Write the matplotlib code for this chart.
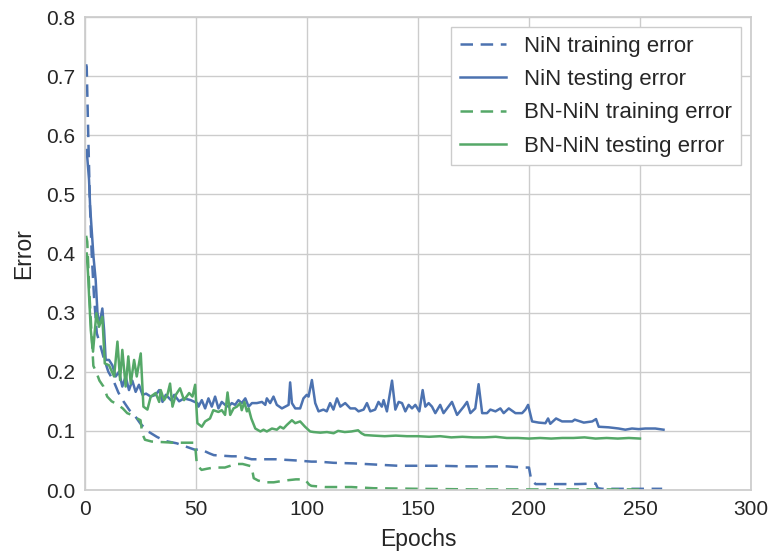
import matplotlib
matplotlib.use("Agg")
import matplotlib.pyplot as plt
from matplotlib.ticker import FormatStrFormatter

# ---------------- data ----------------
nin_test_x = [0.75, 1.8, 2.3, 2.9, 3.8, 4.8, 5.6, 6.3, 7.0, 7.8, 8.6, 9.3, 10.8, 12.3, 13.8, 15.3,
              16.8, 18.3, 19.8, 21.3, 22.8, 24.3, 25.9, 27.5, 29.6, 31.8, 33.4, 34.9, 36.4, 38.7,
              40.2, 42.4, 44.6, 47.6, 50.6,
              51.1, 52.6, 54.1, 55.6, 57.1, 58.6, 60.1, 61.6, 63.1, 64.6, 66.1, 67.6, 69.1, 70.6,
              72.2, 73.7, 75.2, 77.4, 79.7, 81.2, 81.9, 83.4, 84.9, 86.4, 88.7, 90.2, 91.7, 92.4,
              93.2, 94.7, 96.9, 98.4, 99.9,
              100.7, 102.2, 103.7, 105.2, 107.4, 108.9, 110.4, 111.9, 113.5, 115.0, 117.2, 119.5,
              121.7, 123.2, 125.5, 127.0, 128.5, 130.7, 132.2, 133.7, 134.5, 136.0, 138.3, 139.8,
              141.3, 142.8, 144.3, 145.8, 147.3, 148.8,
              150.6, 152.1, 153.3, 154.8, 156.3, 157.8, 160.0, 161.5, 165.3, 167.6, 170.6, 172.1,
              173.6, 175.8, 177.3, 178.9, 181.1, 182.6, 184.9, 187.1, 188.6, 190.9, 193.9, 196.9,
              198.4,
              199.6, 201.4, 204.4, 207.4, 208.6, 209.6, 212.2, 214.9, 219.5, 220.6, 224.7, 228.5,
              230.2, 231.4, 235.9, 240.4, 243.4, 246.4, 249.4, 252.4, 256.9, 260.6]
nin_test_y = [0.575, 0.525, 0.479, 0.446, 0.395, 0.355, 0.300, 0.282, 0.290, 0.307, 0.270, 0.220,
              0.220, 0.211, 0.192, 0.200, 0.175, 0.192, 0.169, 0.185, 0.166, 0.178, 0.161, 0.163,
              0.158, 0.161, 0.169, 0.149, 0.161, 0.152, 0.161, 0.150, 0.155, 0.152, 0.147,
              0.141, 0.152, 0.138, 0.155, 0.141, 0.158, 0.138, 0.149, 0.144, 0.141, 0.147, 0.144,
              0.152, 0.147, 0.155, 0.141, 0.147, 0.147, 0.149, 0.144, 0.155, 0.147, 0.158, 0.144,
              0.138, 0.141, 0.144, 0.182, 0.147, 0.138, 0.138, 0.155, 0.161,
              0.158, 0.186, 0.147, 0.133, 0.136, 0.133, 0.147, 0.136, 0.155, 0.141, 0.147, 0.138,
              0.138, 0.133, 0.136, 0.147, 0.133, 0.136, 0.149, 0.141, 0.152, 0.133, 0.185, 0.136,
              0.149, 0.147, 0.133, 0.144, 0.138, 0.144,
              0.133, 0.169, 0.141, 0.147, 0.141, 0.130, 0.144, 0.130, 0.149, 0.127, 0.141, 0.149,
              0.130, 0.138, 0.179, 0.130, 0.130, 0.136, 0.133, 0.138, 0.130, 0.138, 0.130, 0.130,
              0.136,
              0.144, 0.116, 0.114, 0.113, 0.121, 0.112, 0.121, 0.116, 0.116, 0.119, 0.114, 0.116,
              0.120, 0.107, 0.106, 0.104, 0.102, 0.104, 0.103, 0.104, 0.104, 0.102]

bn_test_x = [0.75, 1.35, 1.8, 2.6, 3.6, 5.1, 6.3, 7.8, 8.9, 10.8, 13.1, 14.6, 15.8, 16.8, 18.3,
             19.5, 20.6, 22.1, 23.3, 25.1, 26.3, 28.1, 29.6, 31.8, 33.4, 34.1, 35.6, 37.1, 38.3,
             39.4, 40.9, 42.8, 44.6, 46.9, 48.4, 49.6, 50.6,
             52.6, 54.1, 56.3, 57.8, 60.1, 61.6, 63.1, 64.2, 65.4, 66.9, 68.4, 69.9, 70.6, 71.8,
             72.9, 73.7, 74.9, 76.7, 79.0, 80.4, 81.9, 84.2, 86.4, 87.9, 89.4, 90.9, 93.2, 94.7,
             96.9, 99.1, 101.4,
             103, 106, 109, 112, 114, 117, 120, 123, 124.5, 126, 130, 135, 140, 145, 150,
             155, 160, 165, 170, 175, 180, 185, 190, 195, 200,
             205, 210, 215, 220, 225, 230, 235, 240, 245, 250]
bn_test_y = [0.400, 0.366, 0.330, 0.270, 0.234, 0.299, 0.276, 0.293, 0.214, 0.211, 0.192, 0.251,
             0.186, 0.237, 0.175, 0.226, 0.180, 0.220, 0.192, 0.231, 0.141, 0.136, 0.158, 0.164,
             0.149, 0.169, 0.152, 0.161, 0.180, 0.141, 0.161, 0.172, 0.152, 0.164, 0.158, 0.178,
             0.113,
             0.107, 0.116, 0.121, 0.135, 0.132, 0.135, 0.127, 0.165, 0.127, 0.138, 0.141, 0.147,
             0.135, 0.149, 0.133, 0.138, 0.121, 0.104, 0.099, 0.102, 0.099, 0.104, 0.102, 0.107,
             0.104, 0.110, 0.118, 0.113, 0.116, 0.107, 0.099,
             0.098, 0.097, 0.098, 0.096, 0.100, 0.098, 0.099, 0.101, 0.096, 0.093, 0.092, 0.091,
             0.092, 0.091, 0.091,
             0.090, 0.091, 0.089, 0.090, 0.089, 0.089, 0.090, 0.088, 0.088, 0.087,
             0.088, 0.087, 0.088, 0.088, 0.089, 0.087, 0.088, 0.087, 0.088, 0.087]

nin_train_x = [0.5, 0.75, 1.5, 2.25, 3.0, 4.0, 5.3, 6.5, 8.3, 10.5, 12.8, 15, 17.3, 20, 22, 24.8,
               28, 32.3, 36, 41.3, 45, 49.6, 52, 56, 58, 66, 70, 75, 86, 95, 102, 105, 112, 121,
               131, 141, 151, 160, 170, 180, 190, 198, 200, 201, 203, 214, 222, 230, 231, 233, 260]
nin_train_y = [0.720, 0.716, 0.592, 0.479, 0.400, 0.330, 0.265, 0.250, 0.225, 0.200, 0.185, 0.165,
               0.150, 0.135, 0.128, 0.113, 0.100, 0.090, 0.083, 0.079, 0.074, 0.068, 0.069, 0.062,
               0.059, 0.057, 0.057, 0.052, 0.052, 0.050, 0.048, 0.048, 0.046, 0.045, 0.043, 0.041,
               0.041, 0.041, 0.040, 0.040, 0.040, 0.038, 0.038, 0.017, 0.010, 0.010, 0.010, 0.011,
               0.003, 0.002, 0.002]

bn_train_x = [0.5, 1.0, 2.0, 3.0, 3.75, 5.0, 6.5, 8.3, 10, 12, 14.5, 17, 19, 21, 23, 25, 25.8, 27,
              30, 35, 40, 45, 49.5, 50.4, 52.5, 55, 58, 63, 68, 71, 75, 76, 78, 81, 85, 90, 95, 99,
              101, 102, 108, 120, 130, 140, 150, 175, 200, 250]
bn_train_y = [0.430, 0.420, 0.330, 0.260, 0.210, 0.200, 0.185, 0.175, 0.158, 0.150, 0.145, 0.138,
              0.130, 0.127, 0.122, 0.118, 0.095, 0.085, 0.082, 0.081, 0.080, 0.080, 0.080, 0.042,
              0.034, 0.036, 0.038, 0.038, 0.044, 0.044, 0.040, 0.020, 0.016, 0.013, 0.013, 0.016,
              0.018, 0.018, 0.009, 0.007, 0.005, 0.005, 0.003, 0.0025, 0.002, 0.001, 0.001, 0.001]

labels = ["NiN training error", "NiN testing error", "BN-NiN training error", "BN-NiN testing error"]
x_ticks = [0, 50, 100, 150, 200, 250, 300]
y_ticks = [0.0, 0.1, 0.2, 0.3, 0.4, 0.5, 0.6, 0.7, 0.8]

# ---------------- style ----------------
plt.rcParams['font.family'] = ['Liberation Sans', 'DejaVu Sans']
plt.rcParams['lines.scale_dashes'] = False
text_c = '#262626'
grid_c = '#cccccc'
blue = '#4C72B0'
green = '#55A868'
dash = (9.0, 5.5)

fig = plt.figure(figsize=(7.73, 5.56), dpi=100)
ax = fig.add_axes([0.110, 0.1187, 0.8615, 0.8507])

lw = 1.8
ax.plot(nin_train_x, nin_train_y, color=blue, lw=lw, linestyle=(0, dash), label=labels[0])
ax.plot(nin_test_x, nin_test_y, color=blue, lw=lw, label=labels[1])
ax.plot(bn_train_x, bn_train_y, color=green, lw=lw, linestyle=(0, dash), label=labels[2])
ax.plot(bn_test_x, bn_test_y, color=green, lw=lw, label=labels[3])

ax.set_xlim(0, 300)
ax.set_ylim(0, 0.8)
ax.set_xticks(x_ticks)
ax.set_yticks(y_ticks)
ax.yaxis.set_major_formatter(FormatStrFormatter('%.1f'))
ax.grid(True, color=grid_c, lw=1.0)
ax.set_axisbelow(True)
for s in ax.spines.values():
    s.set_color(grid_c)
    s.set_linewidth(1.25)
ax.tick_params(length=0, labelsize=15, colors=text_c, pad=7)
ax.set_xlabel("Epochs", fontsize=16.5, color=text_c, labelpad=7)
ax.set_ylabel("Error", fontsize=16.5, color=text_c, labelpad=8)

leg = ax.legend(loc='upper right', fontsize=16, frameon=True, fancybox=False,
                edgecolor=grid_c, framealpha=1.0, handlelength=2.1, handletextpad=0.8,
                labelspacing=0.55, borderpad=0.4, borderaxespad=0.45)
for t in leg.get_texts():
    t.set_color(text_c)
leg.get_frame().set_linewidth(1.0)

fig.savefig("out.png", dpi=100)
